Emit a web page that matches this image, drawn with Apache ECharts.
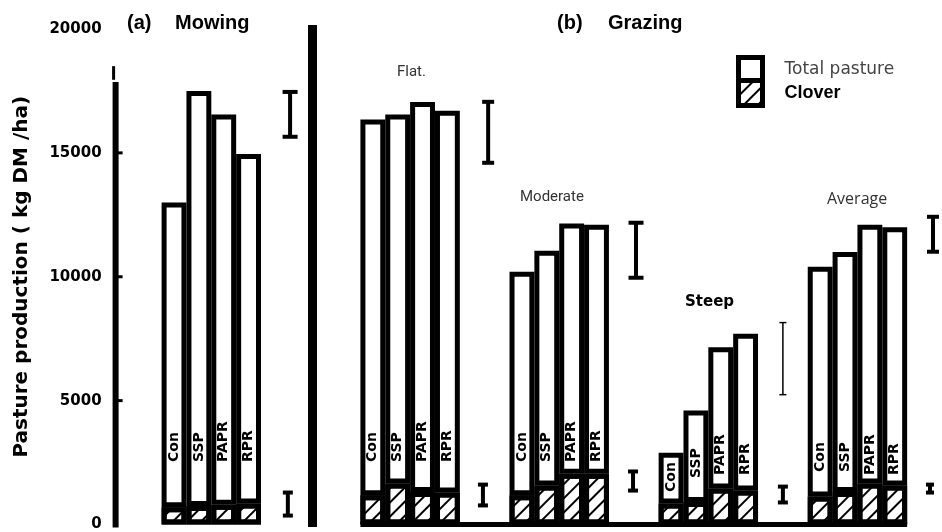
<!DOCTYPE html>
<html><head><meta charset="utf-8">
<script src="https://cdn.jsdelivr.net/npm/echarts@6/dist/echarts.min.js"></script>
<style>html,body{margin:0;padding:0;background:#fff}#c{width:942px;height:532px}</style>
</head><body><div id="c"></div>
<script>
// ---------------- data ----------------
const treatments = ['Con', 'SSP', 'PAPR', 'RPR'];
const groupNames = ['Mowing', 'Flat', 'Moderate', 'Steep', 'Average'];
const totalMowing   = [13000, 17500, 16550, 14950];
const totalFlat     = [16350, 16550, 17050, 16700];
const totalModerate = [10200, 11050, 12150, 12100];
const totalSteep    = [2900, 4600, 7150, 7700];
const totalAverage  = [10400, 11000, 12100, 12000];
const cloverMowing   = [700, 750, 800, 850];
const cloverFlat     = [1180, 1650, 1310, 1290];
const cloverModerate = [1180, 1570, 2050, 2050];
const cloverSteep    = [850, 910, 1450, 1370];
const cloverAverage  = [1130, 1310, 1650, 1570];
const lsdTotal  = [[15650, 17460], [14600, 17060], [9960, 12180], [5240, 8150], [11010, 12420]];
const lsdClover = [[360, 1290], [770, 1610], [1370, 2140], [890, 1530], [1290, 1610]];
const yTickValues = [0, 5000, 10000, 15000, 20000];

// ---------------- layout / styles ----------------
const groupStart = [0, 8, 14, 20, 26];
const nSlots = 31;
const labelAnchor = [[2523, 2523, 2523, 2523], [2523, 2523, 2523, 2523], [2523, 2523, 2523, 2523], [1312, 1877, 1998, 1998], [2119, 2119, 1998, 1998]];
const hiOff = [0.67, 0.64, 0.59, 0.5, 0.54], loOff = [0.58, 0.43, 0.47, 0.5, 0.42];
const hiCap = [7.5, 6, 7.5, 3.5, 6], hiW = [4, 4, 4, 1.5, 4];
const loCap = [5, 5, 5, 5, 4], loW = [4, 4, 4, 4, 4];
const gridLeft = 161.6, gridTop = 29, gridBottom = 7.5, gridRight = 10;
const BOLD = 'DejaVu Sans';

const totals = [totalMowing, totalFlat, totalModerate, totalSteep, totalAverage];
const clovers = [cloverMowing, cloverFlat, cloverModerate, cloverSteep, cloverAverage];

const categories = [];
for (let i = 0; i < nSlots; i++) categories.push('s' + i);
const cloverData = new Array(nSlots).fill('-');
const restData = new Array(nSlots).fill('-');
const labelData = [];
groupStart.forEach((s, g) => {
  treatments.forEach((t, k) => {
    categories[s + k] = groupNames[g] + ' ' + t;
    cloverData[s + k] = clovers[g][k];
    restData[s + k] = totals[g][k] - clovers[g][k];
    labelData.push({ value: [s + k, labelAnchor[g][k]], name: t });
  });
  categories[s + 4] = groupNames[g] + ' LSD';
});
const errHiData = lsdTotal.map((d, g) => [groupStart[g] + 4, d[0], d[1]]);
const errLoData = lsdClover.map((d, g) => [groupStart[g] + 4, d[0], d[1]]);

function errRenderer(off, cap, lw) {
  return function (params, api) {
    const g = params.dataIndex;
    const bw = api.size([1, 0])[0];
    const pLo = api.coord([api.value(0), api.value(1)]);
    const pHi = api.coord([api.value(0), api.value(2)]);
    const x = pLo[0] + bw * off[g];
    const st = { stroke: '#000', lineWidth: lw[g] };
    return { type: 'group', children: [
      { type: 'line', shape: { x1: x, y1: pLo[1], x2: x, y2: pHi[1] }, style: st },
      { type: 'line', shape: { x1: x - cap[g], y1: pLo[1], x2: x + cap[g], y2: pLo[1] }, style: st },
      { type: 'line', shape: { x1: x - cap[g], y1: pHi[1], x2: x + cap[g], y2: pHi[1] }, style: st }
    ]};
  };
}

const hatch = { symbol: 'rect', symbolSize: 1, dashArrayX: [1, 0], dashArrayY: [2, 8], rotation: -Math.PI / 4, color: '#000' };

const chart = echarts.init(document.getElementById('c'), null, { renderer: 'canvas' });
const option = {
  backgroundColor: '#fff',
  animation: false,
  grid: { left: gridLeft, right: gridRight, top: gridTop, bottom: gridBottom },
  xAxis: { type: 'category', data: categories, show: false },
  yAxis: {
    type: 'value', min: yTickValues[0], max: yTickValues[yTickValues.length - 1], interval: yTickValues[1] - yTickValues[0],
    offset: 46,
    axisLine: { show: false }, axisTick: { show: false }, splitLine: { show: false },
    axisLabel: { margin: 14, color: '#000', fontFamily: BOLD, fontWeight: 'bold', fontSize: 15, formatter: v => String(v) },
    name: 'Pasture production ( kg DM /ha)', nameLocation: 'middle', nameRotate: 90, nameGap: 84,
    nameTextStyle: { color: '#000', fontFamily: BOLD, fontWeight: 'bold', fontSize: 20 }
  },
  legend: {
    orient: 'vertical', left: 731, top: 50, itemWidth: 24, itemHeight: 25, itemGap: -7, icon: 'rect',
    itemStyle: { borderColor: '#000', borderWidth: 5 },
    data: [
      { name: 'Total pasture', textStyle: { fontFamily: 'DejaVu Sans', fontSize: 17, color: '#444', padding: [0, 0, 0, 17] } },
      { name: 'Clover', textStyle: { fontFamily: 'Liberation Sans', fontWeight: 'bold', fontSize: 18, color: '#000', padding: [0, 0, 0, 17] } }
    ]
  },
  series: [
    { name: 'Clover', type: 'bar', stack: 'p', data: cloverData, barCategoryGap: 0, barGap: 0,
      itemStyle: { color: '#fff', borderColor: '#000', borderWidth: 5, decal: hatch } },
    { name: 'Total pasture', type: 'bar', stack: 'p', data: restData, barCategoryGap: 0, barGap: 0,
      itemStyle: { color: '#fff', borderColor: '#000', borderWidth: 5 } },
    { name: 'LSD total', type: 'custom', data: errHiData, renderItem: errRenderer(hiOff, hiCap, hiW), z: 5 },
    { name: 'LSD clover', type: 'custom', data: errLoData, renderItem: errRenderer(loOff, loCap, loW), z: 5 },
    { name: 'labels', type: 'custom', data: labelData, z: 6,
      renderItem: function (params, api) {
        const p = api.coord([api.value(0), api.value(1)]);
        return { type: 'text', x: p[0], y: p[1], rotation: Math.PI / 2,
          style: { text: labelData[params.dataIndex].name, fontFamily: BOLD, fontWeight: 'bold', fontSize: 14,
            fill: '#000', align: 'left', verticalAlign: 'middle' } };
      } }
  ]
};
chart.setOption(option);

// decorations: axis line, ticks, panel separator, baseline, titles, annotations
const px = (x, y) => chart.convertToPixel({ gridIndex: 0 }, [x, y]);
const bw = px(1, 0)[0] - px(0, 0)[0];
const ax = gridLeft - 46;
const y0 = px(0, 0)[1];
const g = [];
g.push({ type: 'line', shape: { x1: ax, y1: y0 + 3, x2: ax, y2: px(0, 17860)[1] }, style: { stroke: '#000', lineWidth: 6 } });
g.push({ type: 'line', shape: { x1: ax - 2, y1: px(0, 17950)[1], x2: ax - 2, y2: px(0, 18500)[1] }, style: { stroke: '#000', lineWidth: 3 } });
[5000, 10000, 15000].forEach(v => {
  const yy = px(0, v)[1];
  g.push({ type: 'line', shape: { x1: ax, y1: yy, x2: ax + 7, y2: yy }, style: { stroke: '#000', lineWidth: 3 } });
});
g.push({ type: 'rect', shape: { x: 308, y: 25, width: 9, height: 502 }, style: { fill: '#000' } });
g.push({ type: 'line', shape: { x1: px(8, 0)[0] - bw / 2, y1: y0, x2: px(29, 0)[0] + bw / 2, y2: y0 }, style: { stroke: '#000', lineWidth: 5 } });
function txt(t, x, y, size, family, weight, fill) {
  return { type: 'text', x: x, y: y, z: 10, style: { text: t, fontSize: size, fontFamily: family, fontWeight: weight, fill: fill, align: 'left', verticalAlign: 'middle' } };
}
g.push(txt('(a)', 127, 23, 20, 'Liberation Sans', 'bold', '#000'));
g.push(txt('Mowing', 175, 23, 20, 'Liberation Sans', 'bold', '#000'));
g.push(txt('(b)', 557, 23, 20, 'Liberation Sans', 'bold', '#000'));
g.push(txt('Grazing', 608, 23, 20, 'Liberation Sans', 'bold', '#000'));
g.push(txt('Flat.', 397, 72, 15, 'Roboto', 'normal', '#333'));
g.push(txt('Moderate', 520, 197, 15, 'Roboto', 'normal', '#333'));
g.push(txt('Steep', 685, 302, 15, BOLD, 'bold', '#000'));
g.push(txt('Average', 827, 199, 16, 'Open Sans', 'normal', '#333'));
chart.setOption({ graphic: g });
</script></body></html>
